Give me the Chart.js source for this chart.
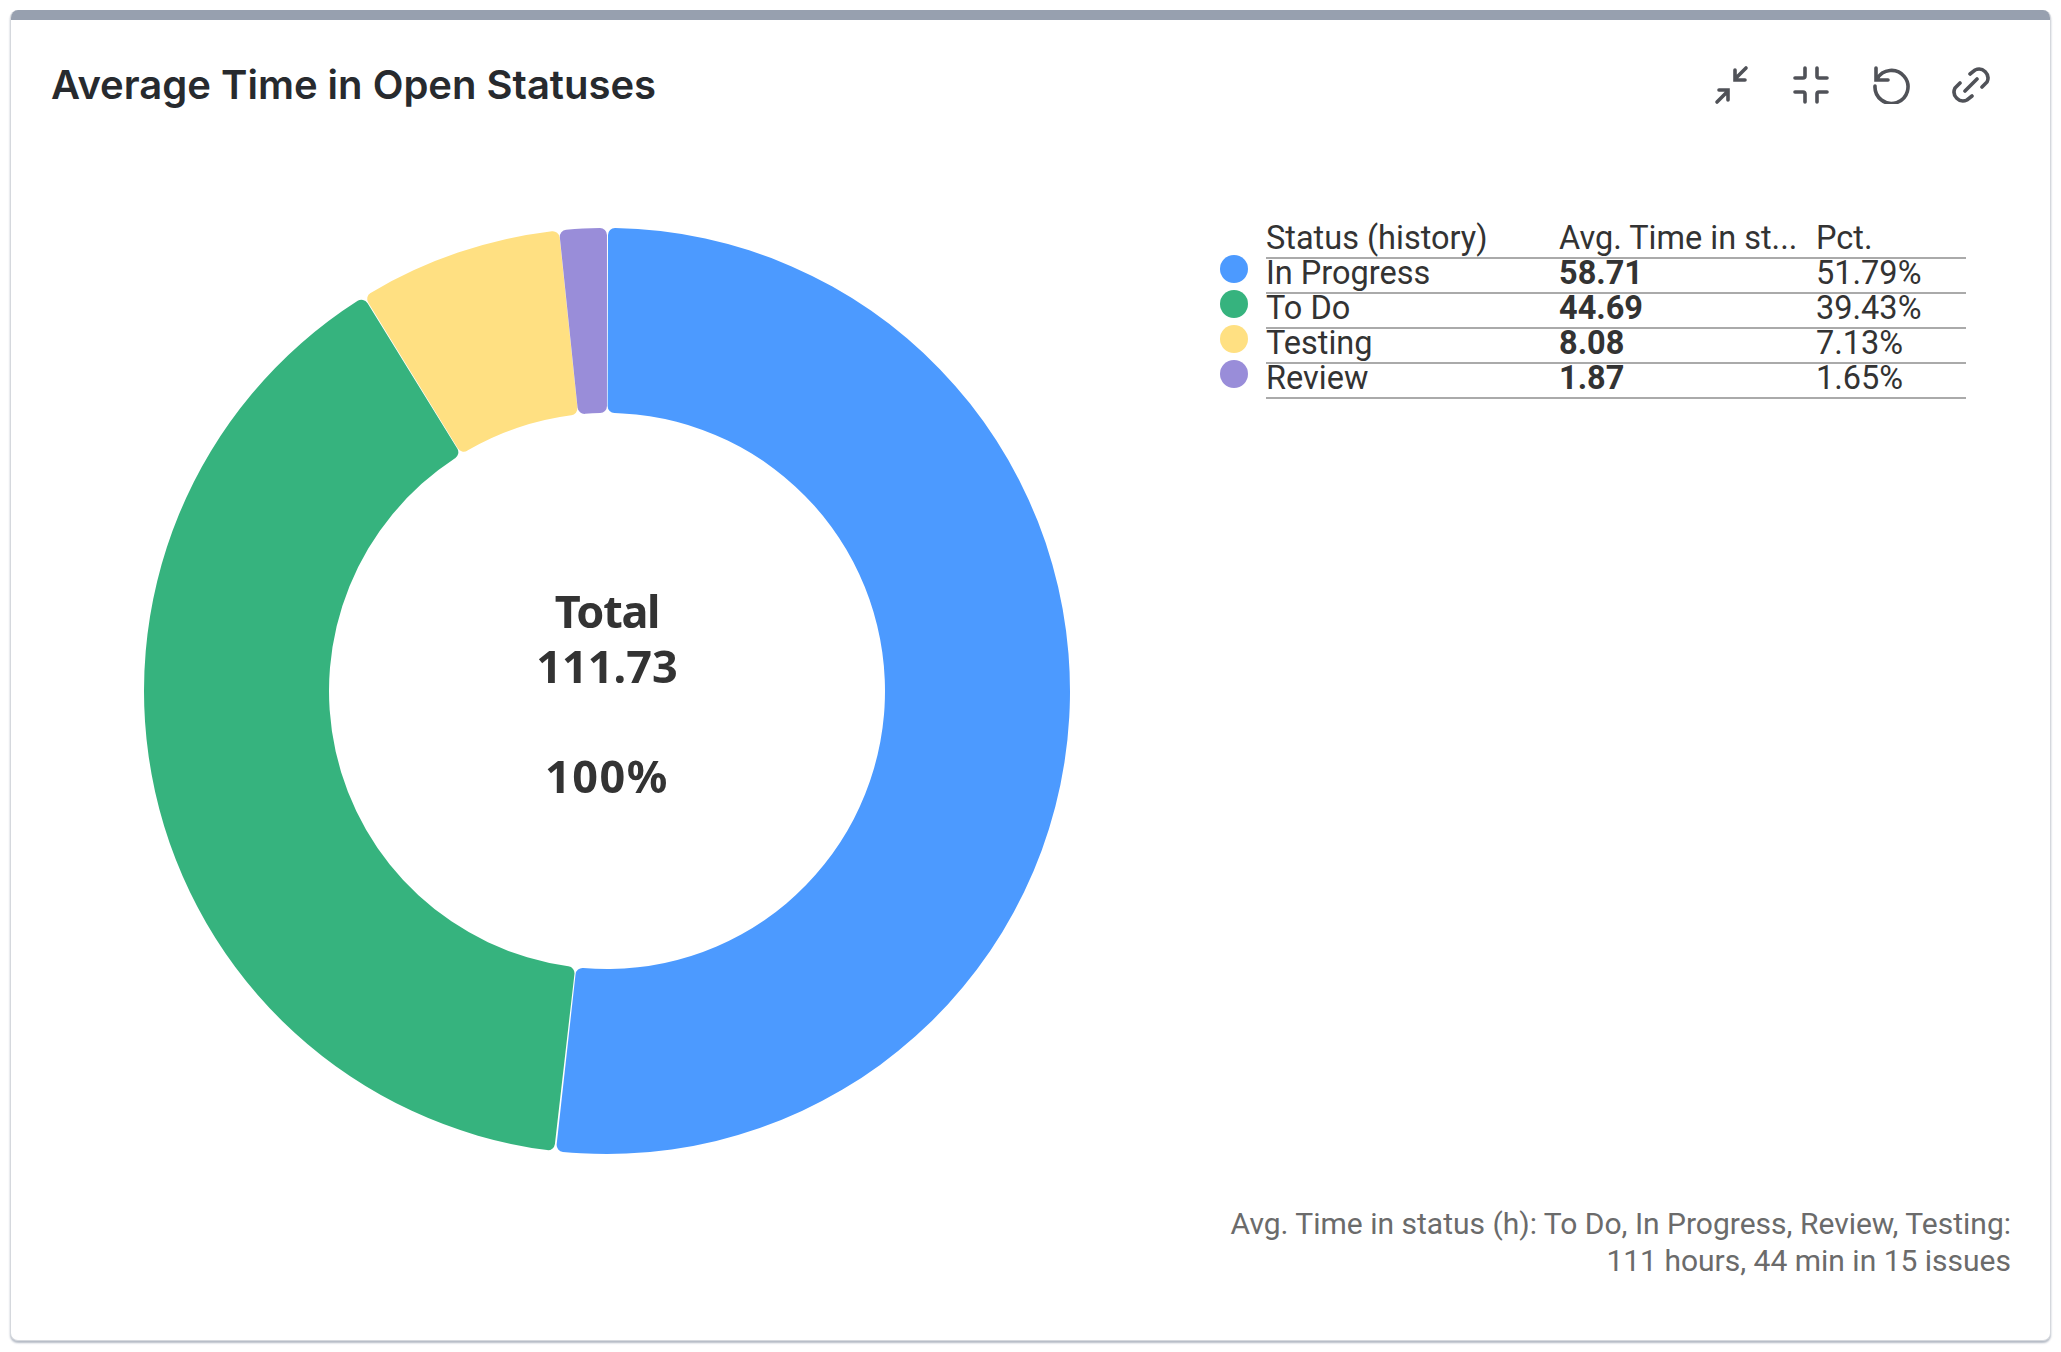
<!DOCTYPE html>
<html>
<head>
<meta charset="utf-8">
<script src="https://cdn.jsdelivr.net/npm/chart.js@4"></script>
<style>
html,body{margin:0;padding:0;background:#fff;width:2061px;height:1352px;overflow:hidden}
#card{position:absolute;left:10px;top:10px;width:2041px;height:1331px;box-sizing:border-box;background:#fff;border-radius:8px;border:1px solid #d5d8dd;border-top:none;box-shadow:0 2px 2px rgba(9,30,66,.3);overflow:hidden}
#bar{position:absolute;left:0;top:0;right:0;height:10px;background:#97A0AF}
#title{left:51px;top:65px;font:600 40px/1 Inter,sans-serif;color:#272a2e;position:absolute;white-space:nowrap}
.cell{font:400 32.5px/1 Roboto,sans-serif;color:#333;position:absolute;white-space:nowrap}
.val{font-weight:700}
.rule{position:absolute;left:1266px;width:700px;height:2px;background:#aaa}
.dot{position:absolute;width:28px;height:28px;border-radius:50%}
.center{position:absolute;left:407px;width:400px;text-align:center;font:700 45px/1 "Noto Sans",sans-serif;color:#333}
.foot{position:absolute;right:50px;font:400 30px/1 Roboto,sans-serif;color:#6b6b6b;white-space:nowrap}
canvas{position:absolute;left:135px;top:219px}
svg{position:absolute;fill:none;stroke:#505258;stroke-width:3.6;stroke-linecap:round;stroke-linejoin:miter}
</style>
</head>
<body>
<div id="card"><div id="bar"></div></div>
<div id="title">Average Time in Open Statuses</div>
<svg style="left:1712px;top:65px" width="40" height="40" viewBox="0 0 40 40"><path d="M34 3 L23 14 M23 5 V15 H33 M5 37 L16 26 M7 25 H16 V35"/></svg>
<svg style="left:1791px;top:65px" width="40" height="40" viewBox="0 0 40 40"><path d="M14 3 V11 Q14 13 12 13 H4 M26 3 V11 Q26 13 28 13 H36 M14 37 V29 Q14 27 12 27 H4 M26 37 V29 Q26 27 28 27 H36"/></svg>
<svg style="left:1871px;top:64px" width="40" height="40" viewBox="0 0 40 40"><path d="M5 4 V16 H17 M6 15 A16.5 16.5 0 1 1 4 22"/></svg>
<svg style="left:1951px;top:65px" width="40" height="40" viewBox="0 0 40 40"><path d="M14 26 L26 14 M19 9 L24 5 A9 9 0 0 1 36 17 L31 22 M21 31 L16 35 A9 9 0 0 1 4 23 L9 18"/></svg>
<canvas id="c" width="944" height="944" style="width:944px;height:944px"></canvas>
<div id="legend"></div>
<div class="center" style="top:588px;letter-spacing:-1.3px">Total</div>
<div class="center" style="top:643px" id="ctotal"></div>
<div class="center" style="top:753px;letter-spacing:1.5px" id="cpct"></div>
<div class="foot" style="top:1209px">Avg. Time in status (h): To Do, In Progress, Review, Testing:</div>
<div class="foot" style="top:1246px">111 hours, 44 min in 15 issues</div>
<script>
const statuses = ["In Progress", "To Do", "Testing", "Review"];
const hours = [58.71, 44.69, 8.08, 1.87];
const percents = ["51.79%", "39.43%", "7.13%", "1.65%"];
const colors = ["#4C9AFF", "#36B37E", "#FFE082", "#998DD9"];
const headers = ["Status (history)", "Avg. Time in st...", "Pct."];
const totalLabel = "111.73";
const totalPct = "100%";

document.getElementById('ctotal').textContent = totalLabel;
document.getElementById('cpct').textContent = totalPct;

const legend = document.getElementById('legend');
function add(cls, css, text){
  const d = document.createElement('div');
  d.className = cls; d.style.cssText = css;
  if (text !== undefined) d.textContent = text;
  legend.appendChild(d);
}
const colX = [1266, 1559, 1816];
const rowH = 35;
headers.forEach((h,i)=>add('cell', `left:${colX[i]}px;top:222px`, h));
add('rule', 'top:257px');
statuses.forEach((s,i)=>{
  const top = 257 + i*rowH;
  add('dot', `left:1219.5px;top:${255+i*rowH}px;background:${colors[i]}`);
  add('cell', `left:${colX[0]}px;top:${top}px`, s);
  add('cell val', `left:${colX[1]}px;top:${top}px`, hours[i].toFixed(2));
  add('cell', `left:${colX[2]}px;top:${top}px`, percents[i]);
  add('rule', `top:${292+i*rowH}px`);
});

new Chart(document.getElementById('c'), {
  type: 'doughnut',
  data: { labels: statuses, datasets: [{ data: hours, backgroundColor: colors, borderWidth: 0, spacing: 1, borderRadius: 7, hoverOffset: 0 }] },
  options: {
    responsive: false, animation: false, cutout: '60%',
    layout: { padding: 9 },
    plugins: { legend: { display: false }, tooltip: { enabled: false }, title: { display: false } }
  }
});
</script>
</body>
</html>
